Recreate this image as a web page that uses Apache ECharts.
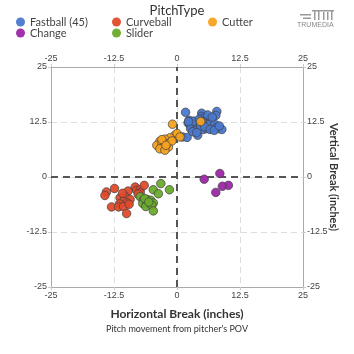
<!DOCTYPE html>
<html><head><meta charset="utf-8">
<script src="https://cdn.jsdelivr.net/npm/echarts@6/dist/echarts.min.js"></script>
<style>html,body{margin:0;padding:0;background:#fff}#c{width:354px;height:354px}</style>
</head><body><div id="c"></div>
<script>
var seriesNames = ['Fastball (45)', 'Curveball', 'Cutter', 'Change', 'Slider'];
var seriesColors = ['#4a78cf', '#e34a2b', '#f7a21f', '#9c27a8', '#6aab2c'];
var tickValues = [-25, -12.5, 0, 12.5, 25];
var fastball = [
 [1.7,14.7],[4.9,14.5],[7.9,14.9],[7.7,14.0],[2.4,12.9],[2.2,12.3],[2.6,11.8],[2.9,11.1],[4.9,13.8],[5.6,12.9],
 [6.5,13.3],[6.8,12.9],[4.1,12.1],[4.6,12.3],[3.8,11.5],[2.7,11.0],[3.6,10.6],[5.2,10.8],[6.9,11.7],[7.2,11.4],
 [8.2,11.0],[8.9,10.8],[5.9,11.0],[1.1,9.1],[2.0,9.0],[4.1,9.5],[5.3,13.4],[6.0,13.0],[5.8,12.2],[6.3,11.9],
 [7.5,12.0],[7.9,11.3],[3.3,12.7],[4.4,13.1],[5.0,12.6],[6.1,14.1],[7.0,13.6],[3.1,10.3],[4.7,11.6],[5.5,11.4],
 [6.6,10.8],[7.4,10.6],[2.3,12.6],[3.9,10.1],[8.4,11.6]
];
var curveball = [
 [-14.0,-3.4],[-14.3,-4.2],[-12.4,-2.6],[-9.7,-3.2],[-8.3,-2.3],[-8.0,-3.0],[-7.3,-2.9],[-6.5,-1.9],[-7.3,-3.6],[-7.7,-3.9],
 [-11.3,-4.7],[-10.3,-4.4],[-9.3,-5.1],[-10.6,-5.5],[-9.9,-5.9],[-11.4,-6.1],[-13.0,-6.8],[-11.6,-6.8],[-10.6,-6.7],[-9.5,-6.2],
 [-10.0,-8.3],[-10.8,-3.7]
];
var cutter = [
 [-0.9,12.0],[4.7,12.6],[-0.4,9.5],[0.0,9.9],[0.6,9.1],[-1.4,8.9],[-2.4,8.6],[-3.4,8.1],[-4.0,7.2],[-3.0,7.4],
 [-2.7,6.8],[-1.7,6.8],[-3.4,6.4],[-2.4,6.1],[-2.0,7.6],[-1.0,8.2],[-3.0,8.5],[-2.2,7.2]
];
var change = [[5.4,-0.5],[8.5,0.8],[10.2,-1.9],[9.0,-2.1],[7.7,-3.5]];
var slider = [
 [-3.2,-1.5],[-1.5,-2.9],[-4.7,-2.9],[-3.7,-3.8],[-7.3,-4.5],[-6.7,-5.3],[-5.9,-5.1],[-5.2,-5.3],[-6.8,-6.0],[-6.0,-6.0],
 [-5.4,-6.0],[-4.7,-5.9],[-6.2,-6.7],[-5.0,-6.4],[-4.7,-7.7],[-6.4,-4.9],[-5.6,-5.7]
];
var seriesData = [fastball, curveball, cutter, change, slider];

var chart = echarts.init(document.getElementById('c'), null, {renderer: 'canvas'});
var lblStyle = {fontSize: 9, color: '#444', fontFamily: 'Liberation Sans'};
function mkAxis(pos, idx) {
  return {
    type: 'value', position: pos, min: tickValues[0], max: tickValues[tickValues.length - 1], interval: 12.5,
    axisLine: {show: true, onZero: false, lineStyle: {color: '#aaa', width: 1}},
    axisTick: {show: true, length: 3, lineStyle: {color: '#ccc'}},
    axisLabel: Object.assign({show: true, margin: 4}, lblStyle),
    splitLine: {show: idx === 0, lineStyle: {color: '#ddd', type: [6, 4], width: 1}}
  };
}
var xAxes = [mkAxis('bottom', 0), mkAxis('top', 1)];
var yAxes = [mkAxis('left', 0), mkAxis('right', 1)];
xAxes[0].name = 'Horizontal Break (inches)';
xAxes[0].nameLocation = 'middle';
xAxes[0].nameGap = 21;
xAxes[0].nameMoveOverlap = false;
xAxes[0].nameTextStyle = {fontSize: 12, fontWeight: 'bold', color: '#333', fontFamily: 'Lato'};
yAxes[1].name = 'Vertical Break (inches)';
yAxes[1].nameLocation = 'middle';
yAxes[1].nameRotate = -90;
yAxes[1].nameGap = 25;
yAxes[1].nameMoveOverlap = false;
yAxes[1].nameTextStyle = {fontSize: 11, fontWeight: 'bold', color: '#333', fontFamily: 'Lato'};

var series = seriesNames.map(function (n, i) {
  return {
    name: n, type: 'scatter', data: seriesData[i], symbolSize: 8.5, z: 3,
    itemStyle: {color: seriesColors[i], borderColor: '#444', borderWidth: 0.8, opacity: 0.95}
  };
});
series[0].markLine = {
  silent: true, symbol: 'none', label: {show: false}, z: 2,
  lineStyle: {color: '#555', type: [7, 5], width: 2},
  data: [{xAxis: 0}, {yAxis: 0}]
};
series[0].z = 4; series[2].z = 5;

var legendText = {fontSize: 11, color: '#444', fontFamily: 'Lato'};
var legendPos = [[16, 16.5], [112, 16.5], [208, 16.5], [16, 27.5], [112, 27.5]];
var legends = seriesNames.map(function (n, i) {
  return {data: [n], left: legendPos[i][0], top: legendPos[i][1], icon: 'circle', itemWidth: 9, itemHeight: 9,
    padding: 0, textStyle: legendText, selectedMode: false, itemStyle: {borderWidth: 0}};
});
chart.setOption({
  animation: false,
  title: [
    {text: 'PitchType', left: 'center', top: 4, padding: 0, textStyle: {fontSize: 13, fontWeight: 'normal', color: '#333', fontFamily: 'Lato'}},
    {text: "Pitch movement from pitcher's POV", left: 'center', top: 325, padding: 0, textStyle: {fontSize: 9, fontWeight: 'normal', color: '#333', fontFamily: 'Lato'}}
  ],
  legend: legends,
  grid: {left: 51, right: 51, top: 67, bottom: 67, containLabel: false},
  xAxis: xAxes,
  yAxis: yAxes,
  series: series,
  graphic: [
    {type: 'rect', shape: {x: 300, y: 14, width: 11, height: 1.5}, style: {fill: '#999'}},
    {type: 'rect', shape: {x: 303, y: 17.5, width: 8, height: 1.5}, style: {fill: '#999'}},
    {type: 'rect', shape: {x: 312, y: 10, width: 22, height: 1.5}, style: {fill: '#999'}},
    {type: 'rect', shape: {x: 314, y: 10, width: 1.5, height: 10}, style: {fill: '#999'}},
    {type: 'rect', shape: {x: 318, y: 10, width: 1.5, height: 10}, style: {fill: '#999'}},
    {type: 'rect', shape: {x: 323, y: 12, width: 1.5, height: 8}, style: {fill: '#999'}},
    {type: 'rect', shape: {x: 327, y: 12, width: 1.5, height: 8}, style: {fill: '#999'}},
    {type: 'rect', shape: {x: 331, y: 10, width: 1.5, height: 10}, style: {fill: '#999'}},
    {type: 'text', left: 297, top: 22, style: {text: 'TRUMEDIA', fontSize: 7, fill: '#888', fontFamily: 'Liberation Sans', letterSpacing: 1}}
  ]
});
</script></body></html>
